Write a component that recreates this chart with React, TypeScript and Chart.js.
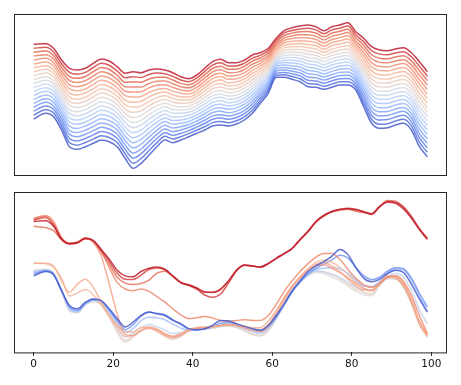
import React, { useEffect, useRef } from "react";
import { Chart, registerables } from "chart.js";

Chart.register(...registerables);

// ---------- DATA ----------
const X = [0, 3, 5, 7, 9, 11, 13, 15, 17, 19, 21, 23, 25, 27, 29, 31, 33, 35, 37, 39, 41, 43, 45, 47, 49, 51, 53, 55, 57, 59, 61, 63, 65, 67, 69, 71, 73, 75, 77, 79, 81, 83, 85, 87, 89, 91, 93, 95, 97, 99];

const xTicks = [0, 20, 40, 60, 80, 100];

// Top panel: outermost (red) and innermost (blue) curves of the evenly spaced family
const topRed = [130.7, 131.3, 126.7, 115, 106.7, 105, 106.7, 111.7, 116, 114, 108.3, 101.7, 103.3, 102.3, 105, 106, 105, 102.3, 98.3, 96.3, 100, 106.7, 113.3, 115.7, 112.3, 112.3, 115, 120, 122.3, 126.7, 136.7, 144.3, 147.3, 149, 150, 148.3, 144.3, 148.3, 150, 152.3, 143.3, 136.7, 128.3, 125, 124.3, 126, 127.3, 122.3, 113.3, 103.3];
const topBlue = [56, 61.7, 58.3, 45, 28.3, 25.7, 28.3, 31.7, 35, 33.3, 28.3, 16.7, 6.7, 11.7, 20, 28.3, 35, 32.3, 35, 38.3, 41.7, 45, 49, 50, 49, 51, 55, 61.7, 71.7, 81.7, 97.7, 97.7, 95.7, 93.3, 88.3, 87.7, 85.7, 87.7, 90, 90, 85, 68.3, 51.7, 46.7, 47.3, 50, 51.7, 45, 28.3, 18.3];
const topLineCount = 20;

// Bottom panel: individual curves
const botR1 = [132.3, 133, 127.3, 114, 109.7, 110.7, 115, 113, 104, 94, 83, 77.3, 76.3, 81.7, 85, 86.3, 84, 77.3, 70.7, 68.3, 65, 60.7, 60.7, 64, 72.3, 83, 88.3, 87.3, 86.3, 89.7, 95, 99.7, 105, 114, 122.3, 132.3, 138.3, 142.3, 144.3, 145, 144, 142.3, 140, 147.3, 151.7, 150.7, 145, 135.7, 124, 114];
const botR2 = [134, 137, 129, 115, 110, 110.7, 115.3, 113, 103, 92, 80, 74, 73.7, 78, 83.7, 85.3, 83.5, 77, 70.3, 67.7, 64, 58, 55.7, 59, 70, 82.3, 88, 87.3, 86.3, 89.7, 95, 99.7, 105, 114, 122.3, 132.3, 138.3, 142.3, 144.5, 145.7, 144.5, 141.8, 139.3, 147, 152.7, 152, 147, 137.3, 125, 115];
const botR3 = [127.3, 126, 123, 114, 109.5, 110.5, 114.7, 112, 101, 89, 76, 70, 68.5, 69.5, 73, 80, 82, 76.5, 70.5, 68, 65, 61.3, 60.5, 63.5, 72, 82.7, 88, 87.3, 86.3, 89.7, 95, 99.7, 105, 113.5, 121.5, 131.5, 137.5, 142, 143.7, 144.7, 142.5, 141, 140, 147.5, 153.5, 152.8, 146.5, 136.5, 125, 115];
const botS1 = [135.7, 138.3, 132.3, 115.7, 109.7, 111.7, 115.7, 112.3, 102.3, 85.7, 70.7, 64, 62.3, 64, 61.7, 56.3, 50.7, 44, 38, 34, 35, 36.3, 34.7, 32.3, 31.7, 32.3, 33, 32.3, 32.3, 37.3, 48.3, 61.7, 72.3, 81.7, 89.7, 96.3, 100, 100, 94, 84, 75, 68.3, 65.7, 69.7, 75.7, 77.3, 71.7, 57.3, 37.3, 19];
const botS2 = [90, 90, 87.3, 72.3, 60.7, 69, 74, 65.7, 50.7, 37.3, 27.3, 20.7, 20.7, 25, 25.7, 23, 19, 16.3, 19, 23, 25, 25.7, 26.3, 27.3, 27.3, 27.3, 26.3, 25, 25, 31.7, 42.3, 55.7, 67.3, 75.7, 83, 89, 90.7, 87.3, 81.7, 74, 67.3, 63, 63, 69.7, 77.3, 75, 67.3, 50.7, 29, 16.3];
const botS3 = [133.5, 135.5, 130, 116, 110.5, 111.3, 115.5, 111, 97.3, 69, 39, 18, 17, 22, 24.5, 22, 17.5, 15, 17.5, 22, 24.5, 25, 26, 27, 28, 27, 24.5, 22, 21, 26, 38, 53, 66, 75, 83, 88, 88.5, 85, 80.5, 75.5, 69.5, 64.5, 62.5, 70, 76.5, 76, 68, 52, 31, 18];
const botS4 = [90, 89.5, 86, 75, 57, 60, 63.5, 58, 48, 36, 25, 16, 17, 22.5, 26, 24, 19, 16, 18.5, 23, 25, 25, 26, 27.3, 28.5, 28, 26, 24, 23, 28, 40, 54.5, 67, 77, 85, 91, 93, 91, 86, 79, 71, 65, 62, 68.5, 76, 77.5, 70, 53, 31, 17];
const botB5 = [82.5, 84, 80, 63, 42, 40, 48, 51.5, 48, 36, 20.5, 10.5, 15.5, 21.5, 25, 21, 16, 13, 16, 21.5, 23.5, 23.5, 24.5, 26, 27, 25, 21.5, 18, 16.5, 21.5, 34, 49.5, 63, 71.5, 78.5, 82, 81.5, 78.5, 74.5, 69.5, 64, 60.5, 59, 68, 75, 74.5, 66, 49.5, 28, 15.5];
const botB4 = [82.3, 83, 79, 62.3, 42.3, 40.7, 49, 52.3, 49, 37.3, 22.3, 12.3, 17.3, 22.3, 25.7, 22.3, 17.3, 14, 17.3, 22.3, 24, 24, 25, 26.3, 27.3, 25.7, 22.3, 19, 17.3, 22.3, 34, 49, 62.3, 70.7, 77.3, 80.7, 79.7, 76.3, 72.3, 67.3, 61.7, 58.3, 57.3, 67.3, 74.3, 74, 65.7, 49, 29, 17.3];
const botB3 = [82, 83.5, 79.5, 62.5, 43, 40.5, 48.5, 52.5, 50, 39.5, 25.5, 15.5, 19.5, 25, 28.5, 26, 22.5, 19, 20, 23, 24, 24.5, 25.5, 27, 27.5, 26.5, 23.5, 20.5, 19, 24, 34.5, 48.5, 62, 71.5, 79, 82, 81.5, 79, 75.5, 71, 66, 63, 63, 69, 77, 80, 76, 63, 43, 29];
const botB2 = [81, 83, 79.5, 63, 44.5, 41.5, 49, 53, 51, 41.5, 29, 20, 24, 32, 35.5, 35, 33, 28.5, 24.5, 22, 22.5, 23.5, 25.5, 27.5, 28.5, 27.5, 24.5, 22, 20.5, 25, 35, 48, 61.5, 71, 79, 83.5, 85, 85.5, 84.5, 80, 73, 67, 66.5, 72, 80, 84.5, 83, 73, 57, 42];
const botB1 = [79, 82.5, 79, 63, 46, 42.5, 49.5, 53.5, 52, 43, 32, 23, 28, 36.5, 40.5, 39.5, 38, 33, 28, 23.5, 22.5, 23.5, 26, 29.5, 30, 28.5, 26, 23.5, 21.5, 26, 36, 48, 61, 71, 79.5, 85, 89, 93.5, 98, 95.5, 86, 77.5, 73.5, 76, 82, 85.5, 84.5, 75, 60, 46];
const botB0 = [77.3, 81.7, 78.3, 62.3, 47.3, 44, 50.7, 54, 52.3, 44, 34, 25.7, 30.7, 37.3, 40.7, 39, 37.3, 32.3, 29, 24, 23, 24, 27.3, 32.3, 31.7, 29, 26.3, 24, 22.3, 27.3, 37.3, 49, 62.3, 72.3, 81.7, 87.3, 91.7, 97.3, 104, 99, 85.7, 75, 71.3, 74, 79.7, 83, 80.7, 69, 54, 40.7];

const bottomSeries = [botR1, botB0, botR2, botR3, botS1, botS3, botS2, botS4, botB1, botB2, botB3, botB4, botB5];
const bottomColorPos = [1.0, 0.0, 0.94, 0.86, 0.8, 0.74, 0.7, 0.66, 0.15, 0.3, 0.4, 0.5, 0.58];

// ---------- STYLE HELPERS ----------
const coolwarmAnchors: [number, number, number][] = [
  [59, 76, 192], [98, 130, 234], [141, 176, 254], [185, 208, 249],
  [221, 220, 220], [245, 196, 172], [244, 154, 123], [224, 101, 79], [180, 4, 38],
];
function coolwarm(t0: number, alpha = 0.85): string {
  const t = 0.03 + 0.94 * t0;
  const n = coolwarmAnchors.length - 1;
  const p = Math.min(Math.max(t, 0), 1) * n;
  const i = Math.min(Math.floor(p), n - 1);
  const f = p - i;
  const a = coolwarmAnchors[i], b = coolwarmAnchors[i + 1];
  const c = a.map((v, k) => Math.round(v + (b[k] - v) * f));
  return `rgba(${c[0]},${c[1]},${c[2]},${alpha})`;
}

const framePlugin = {
  id: "frame",
  afterDraw(chart: any) {
    const { ctx, chartArea } = chart;
    const { left, top, right, bottom } = chartArea;
    ctx.save();
    ctx.strokeStyle = "#262626";
    ctx.lineWidth = 1;
    ctx.strokeRect(left + 0.5, top + 0.5, right - left - 1, bottom - top);
    ctx.restore();
  },
};

const lineStyle = {
  borderWidth: 1.5,
  pointRadius: 0,
  cubicInterpolationMode: "monotone" as const,
  fill: false,
};

const X_MIN = -4.95;
const X_MAX = 103.95;

export default function App() {
  const topRef = useRef<HTMLCanvasElement>(null);
  const botRef = useRef<HTMLCanvasElement>(null);

  useEffect(() => {
    const topDatasets = [];
    for (let i = 0; i < topLineCount; i++) {
      const w = i / (topLineCount - 1);
      topDatasets.push({
        ...lineStyle,
        data: X.map((x, k) => ({ x, y: topBlue[k] + w * (topRed[k] - topBlue[k]) })),
        borderColor: coolwarm(w),
      });
    }
    const topChart = new Chart(topRef.current!, {
      type: "line",
      data: { datasets: topDatasets as any },
      options: {
        animation: false,
        responsive: false,
        layout: { padding: { left: 14, right: 14, top: 14, bottom: 10 } },
        plugins: { legend: { display: false }, tooltip: { enabled: false } },
        scales: {
          x: { type: "linear", min: X_MIN, max: X_MAX, display: false },
          y: { type: "linear", min: 0, max: 161, display: false },
        },
      },
      plugins: [framePlugin],
    });

    const botDatasets = bottomSeries.map((s, idx) => ({
      ...lineStyle,
      data: X.map((x, k) => ({ x, y: s[k] })),
      borderColor: coolwarm(bottomColorPos[idx]),
    }));
    const botChart = new Chart(botRef.current!, {
      type: "line",
      data: { datasets: botDatasets as any },
      options: {
        animation: false,
        responsive: false,
        layout: { padding: { left: 14, right: 14, top: 7, bottom: 12.5 } },
        plugins: { legend: { display: false }, tooltip: { enabled: false } },
        scales: {
          x: {
            type: "linear",
            min: X_MIN,
            max: X_MAX,
            afterBuildTicks: (axis: any) => {
              axis.ticks = xTicks.map((v) => ({ value: v }));
            },
            ticks: {
              color: "#111",
              font: { family: "DejaVu Sans", size: 10.5 },
              padding: 2,
              maxRotation: 0,
              autoSkip: false,
            },
            grid: { drawOnChartArea: false, drawTicks: true, tickLength: 3.5, color: "#262626" },
            border: { display: false },
          },
          y: { type: "linear", min: 0, max: 162, display: false },
        },
      },
      plugins: [framePlugin],
    });

    return () => {
      topChart.destroy();
      botChart.destroy();
    };
  }, []);

  return (
    <div style={{ position: "fixed", left: 0, top: 0, width: 461, height: 385, background: "#fff" }}>
      <canvas ref={topRef} width={461} height={185} style={{ position: "absolute", left: 0, top: 0 }} />
      <canvas ref={botRef} width={461} height={200} style={{ position: "absolute", left: 0, top: 185 }} />
    </div>
  );
}
